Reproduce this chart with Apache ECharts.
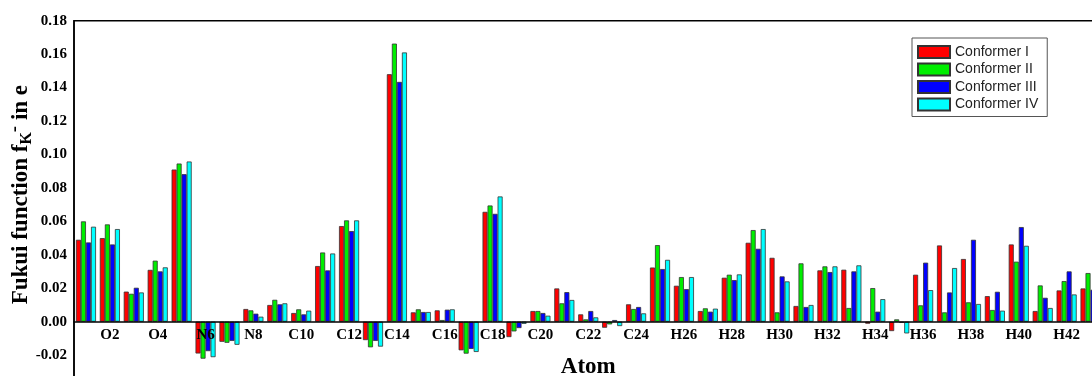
<!DOCTYPE html>
<html><head><meta charset="utf-8">
<script src="https://cdn.jsdelivr.net/npm/echarts@6/dist/echarts.min.js"></script>
<style>html,body{margin:0;padding:0;background:#fff}#c{width:1092px;height:376px}</style>
</head><body><div id="c"></div>
<script>
const atoms = ['O1','O2','O3','O4','N5','N6','N7','N8','C9','C10','C11','C12','C13','C14','C15','C16','C17','C18','C19','C20','C21','C22','C23','C24','H25','H26','H27','H28','H29','H30','H31','H32','H33','H34','H35','H36','H37','H38','H39','H40','H41','H42','H43'];
const conformerI = [0.049,0.050,0.018,0.031,0.091,-0.019,-0.012,0.0076,0.010,0.0052,0.0333,0.0572,-0.011,0.148,0.0056,0.0068,-0.0171,0.0657,-0.0092,0.0064,0.0199,0.0044,-0.0036,0.0104,0.0324,0.0215,0.0064,0.0263,0.0472,0.0382,0.0094,0.0307,0.0311,-0.0012,-0.0056,0.0281,0.0456,0.0375,0.0153,0.0462,0.0064,0.0187,0.0199];
const conformerII = [0.060,0.0582,0.0167,0.0365,0.0946,-0.0221,-0.0126,0.0068,0.0131,0.0074,0.0414,0.0606,-0.0153,0.1663,0.0074,0.001,-0.0191,0.0695,-0.0058,0.0064,0.011,0.0014,-0.0016,0.0076,0.0458,0.0267,0.008,0.0281,0.0548,0.0056,0.0349,0.0331,0.0082,0.0201,0.0014,0.0098,0.0056,0.0116,0.007,0.0359,0.0217,0.0243,0.0291];
const conformerIII = [0.0474,0.0462,0.0203,0.0301,0.0882,-0.0176,-0.0115,0.0048,0.0104,0.0044,0.0307,0.0542,-0.0115,0.1434,0.0058,0.0072,-0.0163,0.0645,-0.0038,0.0052,0.0177,0.0064,0.001,0.0088,0.0315,0.0195,0.006,0.0249,0.0436,0.0271,0.0088,0.0297,0.0301,0.006,-0.0006,0.0353,0.0175,0.049,0.0179,0.0566,0.0143,0.0301,0.0191];
const conformerIV = [0.0568,0.0554,0.0175,0.0325,0.0958,-0.0212,-0.0138,0.003,0.011,0.0066,0.0408,0.0606,-0.0149,0.161,0.0058,0.0074,-0.0181,0.0749,-0.0013,0.0036,0.013,0.0026,-0.0026,0.005,0.037,0.0267,0.0078,0.0283,0.0554,0.0241,0.010,0.0331,0.0337,0.0135,-0.007,0.0189,0.0321,0.0106,0.0066,0.0454,0.0082,0.0163,0.015];
const seriesNames = ['Conformer I','Conformer II','Conformer III','Conformer IV'];
const seriesData = [conformerI, conformerII, conformerIII, conformerIV];
const colors = ['#ff0000','#00ee00','#0000ff','#00ffff'];

const chart = echarts.init(document.getElementById('c'), null, {renderer:'canvas'});
const serif = 'Liberation Serif';
chart.setOption({
  animation:false,
  backgroundColor:'#fff',
  grid:{left:74,right:-10.5,top:20.7,bottom:-12.6,show:true,borderColor:'#000',borderWidth:1.5,containLabel:false,outerBoundsMode:'none'},
  legend:{
    orient:'vertical',left:912,top:38,
    data:seriesNames,
    itemWidth:32,itemHeight:12,itemGap:3.5,
    icon:'rect',
    backgroundColor:'#fff',
    borderColor:'#555',borderWidth:1,
    padding:[7,9,5,5],
    textStyle:{fontFamily:'Liberation Sans',fontSize:14,color:'#222'}
  },
  xAxis:{
    type:'category',data:atoms,
    offset:-66.9,z:5,
    axisLine:{onZero:false,lineStyle:{color:'#000',width:1.5}},
    axisTick:{show:false},
    axisLabel:{interval:(i)=>i%2===1,fontFamily:serif,fontWeight:'bold',fontSize:15,color:'#000',margin:6},
    name:'Atom',nameLocation:'middle',
    nameTextStyle:{fontFamily:serif,fontWeight:'bold',fontSize:23,color:'#000'},
    nameGap:34
  },
  yAxis:{
    type:'value',min:-0.04,max:0.18,interval:0.02,
    axisLine:{show:true,lineStyle:{color:'#000',width:1.5}},
    axisTick:{show:false},
    splitLine:{show:false},
    axisLabel:{formatter:(v)=>v.toFixed(2),fontFamily:serif,fontWeight:'bold',fontSize:15,color:'#000',margin:7},
    name:'Fukui function f{sub|K}{sup|-} in e',
    nameLocation:'middle',nameGap:37,nameMoveOverlap:false,
    nameTextStyle:{
      fontFamily:serif,fontWeight:'bold',fontSize:23,color:'#000',padding:[0,0,0,20],
      rich:{
        sub:{fontFamily:serif,fontWeight:'bold',fontSize:16,color:'#000',padding:[10,0,0,0]},
        sup:{fontFamily:serif,fontWeight:'bold',fontSize:19,color:'#000',padding:[0,0,12,0]}
      }
    }
  },
  series:seriesData.map((d,i)=>({
    name:seriesNames[i],type:'bar',data:d,
    barGap:'0%',barCategoryGap:'16%',
    itemStyle:{color:colors[i],borderColor:'#333',borderWidth:0.8}
  }))
});
</script></body></html>
